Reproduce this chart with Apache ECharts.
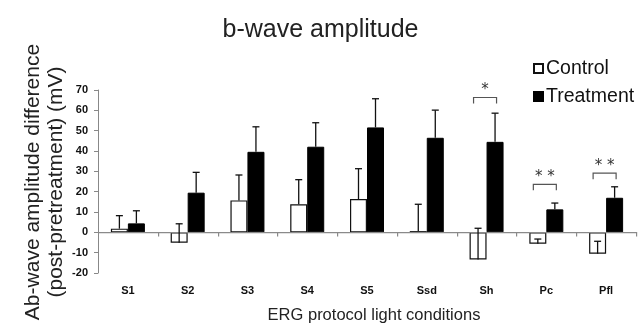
<!DOCTYPE html>
<html>
<head>
<meta charset="utf-8">
<script src="https://cdn.jsdelivr.net/npm/echarts@6/dist/echarts.min.js"></script>
<style>html,body{margin:0;padding:0;background:#fff;}#c{width:641px;height:324px;}</style>
</head>
<body>
<div id="c"></div>
<script>
var categories = ['S1','S2','S3','S4','S5','Ssd','Sh','Pc','Pfl'];
var controlMean = [1.8, -5.1, 15.7, 13.8, 16.4, 0.6, -13.3, -5.6, -10.5];
var controlErr  = [6.4, 9.3, 12.5, 12.1, 14.9, 13.2, 15.3, 2.3, 6.1];
var treatMean   = [4.4, 19.5, 39.6, 42.1, 51.6, 46.5, 44.5, 11.3, 17.0];
var treatErr    = [6.2, 10.0, 12.3, 11.8, 14.1, 13.6, 14.1, 3.1, 5.4];
var sigCategory = [6, 7, 8];
var sigLevel    = [66.3, 23.6, 29.1];
var sigLabel    = ['*', '* *', '* *'];
var yTicks = {min: -20, max: 70, interval: 10};

var chart = echarts.init(document.getElementById('c'));
var BW = 17;
var T = 'rgba(0,0,0,0)';
function errData(mean, err) {
  return mean.map(function (m, i) { return [i, m, m + err[i]]; });
}
function errRender(offset) {
  return function (params, api) {
    var p0 = api.coord([api.value(0), api.value(1)]);
    var p1 = api.coord([api.value(0), api.value(2)]);
    var x = p0[0] + offset;
    return {
      type: 'group',
      children: [
        {type: 'line', shape: {x1: x, y1: p0[1], x2: x, y2: p1[1]}, style: {stroke: '#111', lineWidth: 1.3}},
        {type: 'line', shape: {x1: x - 3.5, y1: p1[1], x2: x + 3.5, y2: p1[1]}, style: {stroke: '#111', lineWidth: 1.3}}
      ]
    };
  };
}
var sigData = sigCategory.map(function (c, i) { return [c, sigLevel[i], sigLabel[i]]; });
var zeroData = categories.map(function (c, i) { return [i, 0]; });

chart.setOption({
  animation: false,
  backgroundColor: '#fff',
  title: {
    text: 'b-wave amplitude', left: 'center', top: 13,
    textStyle: {fontFamily: 'Liberation Sans, Arial, sans-serif', fontSize: 25, fontWeight: 'normal', color: '#222'}
  },
  legend: {
    data: ['Control', 'Treatment'],
    orient: 'vertical', left: 528, top: 53,
    itemWidth: 9, itemHeight: 9, itemGap: 7,
    icon: 'rect',
    textStyle: {fontFamily: 'Liberation Sans, Arial, sans-serif', fontSize: 19.5, color: '#111', lineHeight: 21, padding: [0, 0, 0, -2]}
  },
  grid: {left: 98, right: 5, top: 90, bottom: 51},
  xAxis: {
    type: 'category', data: categories, position: 'bottom',
    axisLine: {show: false, onZero: false}, axisTick: {show: false},
    axisLabel: {margin: 12, fontFamily: 'Liberation Sans, Arial, sans-serif', fontSize: 11, fontWeight: 'bold', color: '#111'}
  },
  yAxis: {
    type: 'value', min: yTicks.min, max: yTicks.max, interval: yTicks.interval,
    splitLine: {show: true, lineStyle: {width: 1, color: [T, T, '#8a8a8a', T, T, T, T, T, T, T]}},
    axisLine: {show: true, lineStyle: {color: '#888', width: 1}},
    axisTick: {show: true, length: 4, lineStyle: {color: '#888'}},
    axisLabel: {margin: 10, fontFamily: 'Liberation Sans, Arial, sans-serif', fontSize: 11, fontWeight: 'bold', color: '#111'}
  },
  graphic: [
    {
      type: 'text', x: 45, y: 182, rotation: Math.PI / 2,
      style: {
        text: 'Ab-wave amplitude difference\n(post-pretreatment) (mV)',
        fontFamily: 'Liberation Sans, Arial, sans-serif', fontSize: 21, lineHeight: 23,
        fill: '#222', align: 'center', verticalAlign: 'middle'
      }
    },
    {
      type: 'text', x: 374, y: 315,
      style: {
        text: 'ERG protocol light conditions',
        fontFamily: 'Liberation Sans, Arial, sans-serif', fontSize: 16.5,
        fill: '#222', align: 'center', verticalAlign: 'middle'
      }
    }
  ],
  series: [
    {
      type: 'custom', data: zeroData, z: 4, encode: {x: 0, y: 1}, silent: true, clip: false,
      renderItem: function (params, api) {
        var p = api.coord([api.value(0), api.value(1)]);
        var w = api.size([1, 0])[0];
        var xl = p[0] - w / 2, xr = p[0] + w / 2;
        var y = Math.round(p[1]);
        return {
          type: 'group',
          children: [
            {type: 'rect', shape: {x: xl, y: y, width: w, height: 1.2}, style: {fill: '#8a8a8a'}},
            {type: 'rect', shape: {x: Math.round(xr), y: y, width: 1.2, height: 4.5}, style: {fill: '#8a8a8a'}}
          ]
        };
      }
    },
    {
      name: 'Control', type: 'bar', data: controlMean, barWidth: BW, barGap: '0%', z: 3,
      itemStyle: {color: '#fff', borderColor: '#111', borderWidth: 1.2}
    },
    {
      name: 'Treatment', type: 'bar', data: treatMean, barWidth: BW, barGap: '0%', z: 3,
      itemStyle: {color: '#000', borderColor: '#000', borderWidth: 1}
    },
    {
      type: 'custom', data: errData(controlMean, controlErr), renderItem: errRender(-BW / 2), z: 5,
      encode: {x: 0, y: [1, 2]}
    },
    {
      type: 'custom', data: errData(treatMean, treatErr), renderItem: errRender(BW / 2), z: 5,
      encode: {x: 0, y: [1, 2]}
    },
    {
      type: 'custom', data: sigData, z: 6, encode: {x: 0, y: 1},
      renderItem: function (params, api) {
        var p = api.coord([api.value(0), api.value(1)]);
        var x0 = p[0] - 13, x1 = p[0] + 10, y = p[1];
        return {
          type: 'group',
          children: [
            {type: 'polyline', shape: {points: [[x0, y + 6], [x0, y], [x1, y], [x1, y + 6]]}, style: {stroke: '#555', lineWidth: 1.2, fill: null}},
            {type: 'text', style: {text: sigData[params.dataIndex][2], x: (x0 + x1) / 2, y: y - 7, align: 'center', verticalAlign: 'middle',
              fontFamily: 'DejaVu Sans, sans-serif', fontSize: 15, fill: '#333'}}
          ]
        };
      }
    }
  ]
});
</script>
</body>
</html>
